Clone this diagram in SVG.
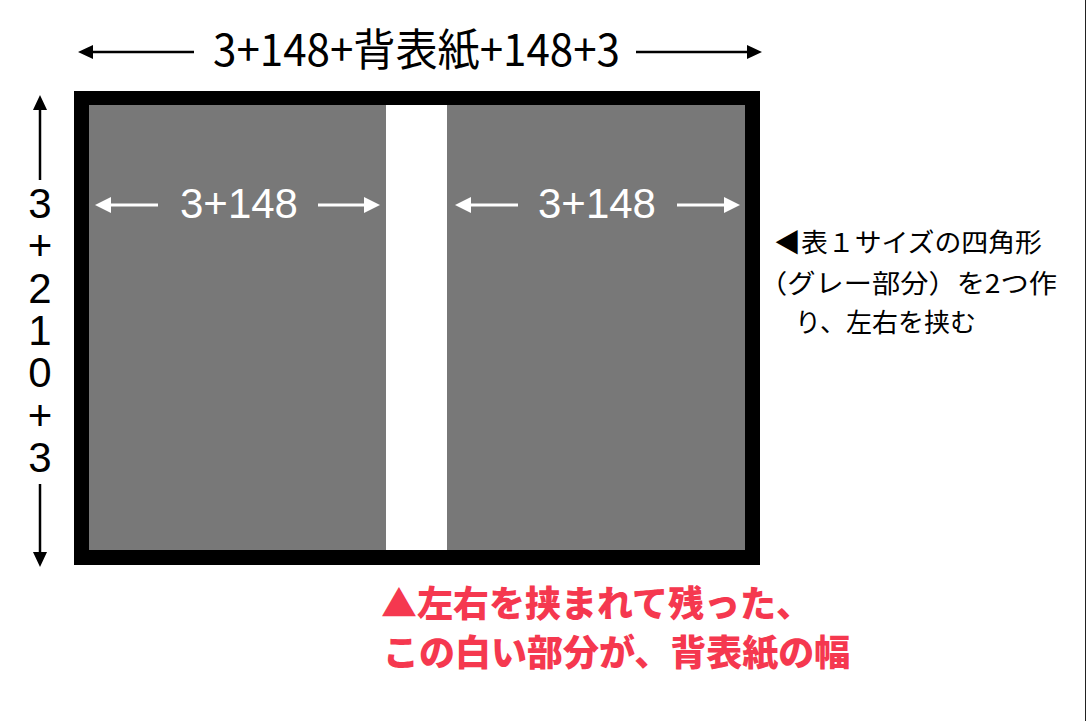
<svg xmlns="http://www.w3.org/2000/svg" width="1087" height="721" viewBox="0 0 1087 721">
<style>
.dim{font-family:"Liberation Sans","Noto Sans CJK JP",sans-serif;font-size:42px}
.jp{font-family:"Noto Sans CJK JP",sans-serif}
.blk{stroke:#000;stroke-width:2.5;fill:none;marker-end:url(#hb)}
.wht{stroke:#fff;stroke-width:3;fill:none;marker-end:url(#hw)}
.red{font-family:"Noto Sans CJK JP",sans-serif;font-weight:900;font-size:36px;fill:#f5384f}
</style>
<defs>
<marker id="hb" markerUnits="userSpaceOnUse" viewBox="0 0 15 14" refX="9" refY="7" markerWidth="15" markerHeight="14" orient="auto"><path d="M0,0 L15,7 L0,14 z" fill="#000"/></marker>
<marker id="hw" markerUnits="userSpaceOnUse" viewBox="0 0 16 16" refX="10" refY="8" markerWidth="16" markerHeight="16" orient="auto"><path d="M0,0 L16,8 L0,16 z" fill="#fff"/></marker>
</defs>
<rect x="0" y="0" width="1087" height="721" fill="#fff"/>
<line x1="1085.5" y1="0" x2="1085.5" y2="721" stroke="#222" stroke-width="1"/>
<g id="frame">
<rect x="74" y="91" width="686" height="474" fill="#000"/>
</g>
<g id="left-panel">
<rect x="89" y="105" width="297" height="445" fill="#787878"/>
<text class="dim" x="239" y="218" text-anchor="middle" fill="#fff">3+148</text>
</g>
<g id="spine">
<rect x="386" y="105" width="61" height="445" fill="#fff"/>
</g>
<g id="right-panel">
<rect x="447" y="105" width="298" height="445" fill="#787878"/>
<text class="dim" x="597" y="218" text-anchor="middle" fill="#fff">3+148</text>
</g>
<g id="top-label">
<text class="jp" x="213" y="66" font-size="44" textLength="407" lengthAdjust="spacingAndGlyphs" fill="#000">3+148+背表紙+148+3</text>
</g>
<g id="side-label" class="dim" text-anchor="middle" fill="#000">
<text x="40" y="218">3</text>
<text x="40" y="260">+</text>
<text x="40" y="302.5">2</text>
<text x="40" y="345">1</text>
<text x="40" y="387">0</text>
<text x="40" y="429.5">+</text>
<text x="40" y="472">3</text>
</g>
<g id="note" class="jp" font-size="26" fill="#000">
<text x="774" y="252" textLength="268" lengthAdjust="spacingAndGlyphs">◀表１サイズの四角形</text>
<text x="759" y="293" textLength="298" lengthAdjust="spacingAndGlyphs">（グレー部分）を2つ作</text>
<text x="795" y="332">り、左右を挟む</text>
</g>
<g id="caption">
<text class="red" x="381" y="617">▲左右を挟まれて残った、</text>
<text class="red" x="383" y="666">この白い部分が、背表紙の幅</text>
</g>
<g id="connectors">
<path class="blk" d="M194,52 L84,52"/>
<path class="blk" d="M636,52 L756,52"/>
<path class="blk" d="M40,180 L40,101"/>
<path class="blk" d="M40,484 L40,561"/>
<path class="wht" d="M158,205 L101,205"/>
<path class="wht" d="M318,205 L374,205"/>
<path class="wht" d="M518,205 L461,205"/>
<path class="wht" d="M677,205 L734,205"/>
</g>
</svg>
